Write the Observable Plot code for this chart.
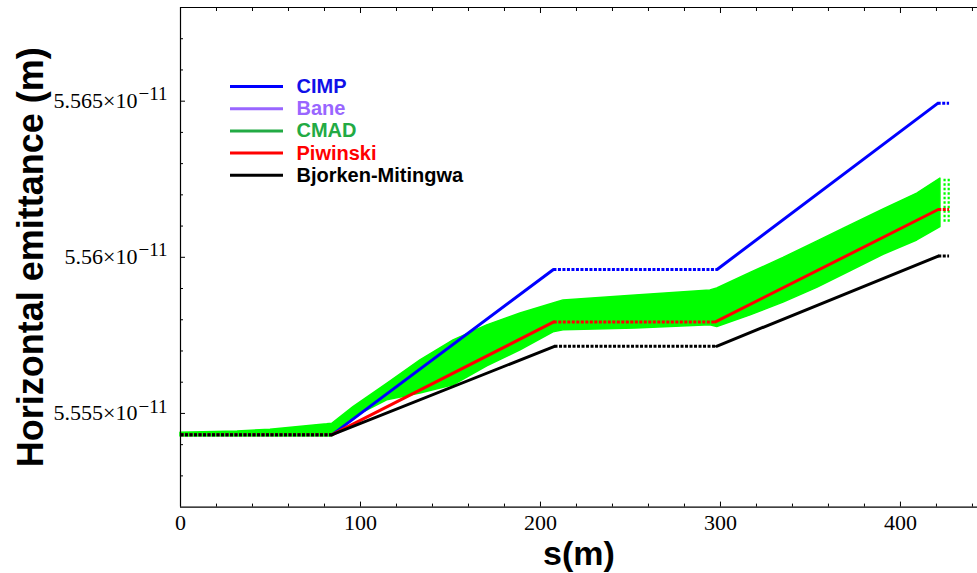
<!DOCTYPE html>
<html>
<head>
<meta charset="utf-8">
<script src="https://cdn.jsdelivr.net/npm/d3@7"></script>
<script src="https://cdn.jsdelivr.net/npm/@observablehq/plot@0.6"></script>
<style>
  html, body { margin: 0; padding: 0; background: #fff; overflow: hidden; }
</style>
</head>
<body>
<div id="chart"></div>
<script>
// Horizontal emittance along s, in units of 1e-11 m.
// Analytic IBS models: break points of each curve.
const s_CIMP = [0, 84.3, 207.2, 298.1, 420.7, 427];
const eps_CIMP = [5.55432, 5.55432, 5.55961, 5.55961, 5.56493, 5.56493];

const s_Piwinski = [0, 84.3, 207.4, 297.2, 421, 427];
const eps_Piwinski = [5.55432, 5.55432, 5.55793, 5.55793, 5.56153, 5.56153];

const s_BM = [0, 84.3, 207.8, 297.8, 421, 427];
const eps_BM = [5.55432, 5.55432, 5.55715, 5.55715, 5.56004, 5.56004];

// CMAD tracking: spread of the macro-particle results (lower / upper envelope)
const s_CMAD = [0, 31.7, 50, 81.5, 84.3, 96.1, 114.8, 133.3, 151.7, 170.4, 188.9, 207.2,
                212.8, 253, 294.4, 298.2, 316.7, 335, 353.7, 372.2, 390.6, 409.3, 422.2];
const cmadLow = [5.55426, 5.55426, 5.55426, 5.55426, 5.55426, 5.55487, 5.55542, 5.55564, 5.55590, 5.55651, 5.55702, 5.55760,
                 5.55766, 5.55772, 5.55782, 5.55777, 5.55814, 5.55855, 5.55902, 5.55955, 5.56008, 5.56054, 5.56097];
const cmadHigh = [5.55438, 5.55442, 5.55448, 5.55465, 5.55467, 5.55520, 5.55595, 5.55670, 5.55734, 5.55782, 5.55820, 5.55852,
                  5.55862, 5.55878, 5.55894, 5.55900, 5.55950, 5.55998, 5.56050, 5.56102, 5.56153, 5.56204, 5.56252];
// last sampled columns of the tracking run
const s_CMADtail = [424.5, 426.8];
const cmadTailLow = [5.56112, 5.56112];
const cmadTailHigh = [5.56253, 5.56253];

// legend
const legendNames = ["CIMP", "Bane", "CMAD", "Piwinski", "Bjorken-Mitingwa"];
const legendColors = ["#0000ff", "#9966ff", "#22aa44", "#ff0000", "#000000"];
const legendTextColors = ["#1010e8", "#9966ff", "#22aa44", "#ff0000", "#000000"];

// axes
const xMajor = [0, 100, 200, 300, 400];
const xMinor = [20, 40, 60, 80, 120, 140, 160, 180, 220, 240, 260, 280, 320, 340, 360, 380, 420, 440];
const yMajor = [5.555, 5.56, 5.565];
const yMajorLabels = ["5.555", "5.56", "5.565"];
const yExponent = "\u221211";
const yMinor = [5.553, 5.554, 5.556, 5.557, 5.558, 5.559, 5.561, 5.562, 5.563, 5.564, 5.566, 5.567];

const W = 977, H = 573;
const mLeft = 180, mRight = 0, mTop = 7, mBottom = 66.4;
const xDomain = [0, 442.8];
const yDomain = [5.552, 5.568];

const series = [
  {name: "CIMP", s: s_CIMP, eps: eps_CIMP, color: "#0000ff"},
  {name: "Piwinski", s: s_Piwinski, eps: eps_Piwinski, color: "#ff0000"},
  {name: "Bjorken-Mitingwa", s: s_BM, eps: eps_BM, color: "#000000"}
];

// split every curve into segments; constant stretches are drawn dotted
const segments = [];
series.forEach(ser => {
  for (let i = 0; i < ser.s.length - 1; i++) {
    const flat = ser.eps[i] === ser.eps[i + 1];
    const id = ser.name + i;
    segments.push({id, name: ser.name, color: ser.color, flat, s: ser.s[i], eps: ser.eps[i]});
    segments.push({id, name: ser.name, color: ser.color, flat, s: ser.s[i + 1], eps: ser.eps[i + 1]});
  }
});

const band = s_CMAD.map((s, i) => ({s, lo: cmadLow[i], hi: cmadHigh[i]}));
const tail = s_CMADtail.map((s, i) => ({s, lo: cmadTailLow[i], hi: cmadTailHigh[i]}));

// pixel helpers for the legend block
const xPx = d3.scaleLinear().domain(xDomain).range([mLeft, W - mRight]);
const yPx = d3.scaleLinear().domain(yDomain).range([H - mBottom, mTop]);
const legendRows = legendNames.map((name, i) => ({
  name,
  color: legendColors[i],
  textColor: legendTextColors[i],
  y: yPx.invert(86 + i * 22.2),
  x1: xPx.invert(230),
  x2: xPx.invert(283),
  xt: xPx.invert(296)
}));

const serif = "Liberation Serif, Times New Roman, serif";
const sans = "Liberation Sans, Arial, Helvetica, sans-serif";

const chart = Plot.plot({
  width: W,
  height: H,
  marginLeft: mLeft,
  marginRight: mRight,
  marginTop: mTop,
  marginBottom: mBottom,
  style: {background: "#fff", overflow: "visible"},
  x: {domain: xDomain, axis: null},
  y: {domain: yDomain, axis: null},
  marks: [
    // CMAD band
    Plot.areaY(band, {x: "s", y1: "lo", y2: "hi", fill: "#00ff00", stroke: "#00ff00", strokeWidth: 1.5, curve: "linear"}),
    Plot.ruleX(tail, {x: "s", y1: "lo", y2: "hi", stroke: "#00ff00", strokeWidth: 2.2, strokeDasharray: "2.5,2"}),

    // analytic models
    Plot.line(segments.filter(d => !d.flat), {x: "s", y: "eps", z: "id", stroke: "color", strokeWidth: 3, curve: "linear"}),
    Plot.line(segments.filter(d => d.flat), {x: "s", y: "eps", z: "id", stroke: "color", strokeWidth: 3, strokeDasharray: "3,1.5", strokeLinecap: "butt", curve: "linear"}),

    // frame
    Plot.ruleY(yDomain, {stroke: "#000", strokeWidth: 1.2}),
    Plot.ruleX([xDomain[0]], {stroke: "#000", strokeWidth: 1.2}),

    // inward ticks
    Plot.axisX(xMajor, {anchor: "bottom", tickSize: -5, tickPadding: 12, fontSize: 22, fontFamily: serif, fill: "#000", label: null}),
    Plot.axisX(xMinor, {anchor: "bottom", tickSize: -3, tickFormat: () => "", label: null}),
    Plot.axisX(xMajor, {anchor: "top", tickSize: -5, tickFormat: () => "", label: null}),
    Plot.axisX(xMinor, {anchor: "top", tickSize: -3, tickFormat: () => "", label: null}),
    Plot.axisY(yMajor, {anchor: "left", tickSize: -5, tickFormat: () => "", label: null}),
    Plot.axisY(yMinor, {anchor: "left", tickSize: -3, tickFormat: () => "", label: null}),

    // y tick labels with power-of-ten exponent
    Plot.text(yMajor, {y: d => d, frameAnchor: "left", text: (d, i) => yMajorLabels[i] + "\u00d710", textAnchor: "end", dx: -43, fontSize: 22, fontFamily: serif, fill: "#000"}),
    Plot.text(yMajor, {y: d => d, frameAnchor: "left", text: () => yExponent, textAnchor: "start", dx: -42, dy: -7, fontSize: 19, fontFamily: serif, fill: "#000"}),

    // axis titles
    Plot.text(["s(m)"], {frameAnchor: "bottom", dy: 47, lineAnchor: "middle", textAnchor: "middle", fontSize: 34, fontWeight: "bold", fontFamily: sans, fill: "#000"}),
    Plot.text(["Horizontal emittance (m)"], {frameAnchor: "left", dx: -149, textAnchor: "middle", lineAnchor: "middle", rotate: -90, fontSize: 36, fontWeight: "bold", fontFamily: sans, fill: "#000"}),

    // legend
    Plot.ruleY(legendRows, {y: "y", x1: "x1", x2: "x2", stroke: "color", strokeWidth: 3}),
    Plot.text(legendRows, {x: "xt", y: "y", text: "name", fill: "textColor", textAnchor: "start", fontSize: 20, fontWeight: "bold", fontFamily: sans})
  ]
});

document.getElementById("chart").appendChild(chart);
</script>
</body>
</html>
